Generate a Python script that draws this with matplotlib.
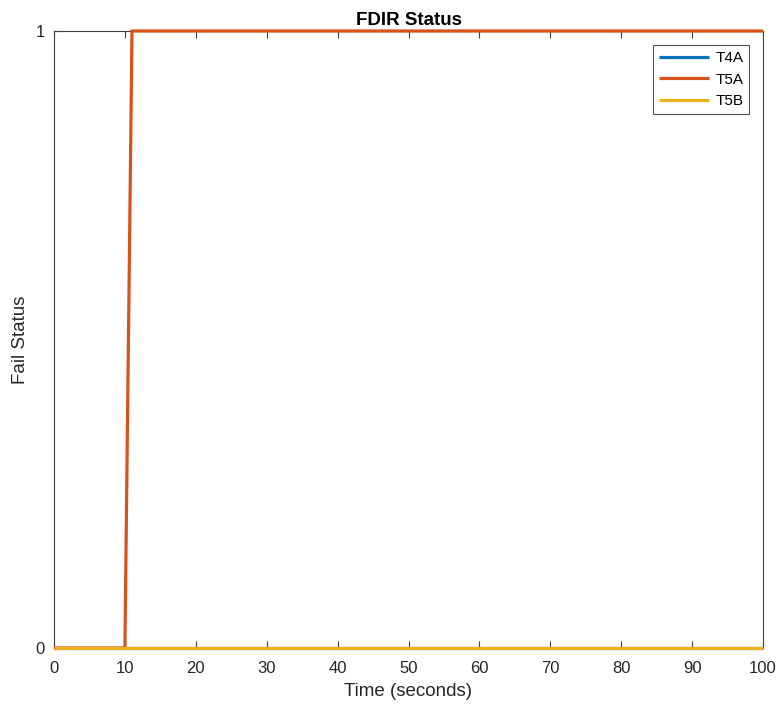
import matplotlib
matplotlib.use("Agg")
import matplotlib.pyplot as plt

time = [0, 10, 11, 100]
T4A = [0, 0, 0, 0]
T5A = [0, 0, 1, 1]
T5B = [0, 0, 0, 0]
series_names = ["T4A", "T5A", "T5B"]
colors = ["#0072BD", "#D95319", "#EDB120"]
xticks = list(range(0, 101, 10))
yticks = [0, 1]

plt.rcParams['font.family'] = ['Liberation Sans', 'DejaVu Sans']

fig = plt.figure(figsize=(7.8, 7.04), dpi=100)
ax = fig.add_axes([54/780, 1 - 648/704, (763-54)/780, (648-31)/704])

for name, vals, c in zip(series_names, [T4A, T5A, T5B], colors):
    ax.plot(time, vals, color=c, lw=2.3, label=name, clip_on=False,
            solid_joinstyle='miter', solid_capstyle='butt', zorder=3)

ax.set_xlim(0, 100)
ax.set_ylim(0, 1)
ax.set_xticks(xticks)
ax.set_yticks(yticks)
ax.tick_params(direction='in', top=True, right=True, length=5, width=0.8,
               colors='#404040', labelsize=12, labelcolor='#262626')
ax.tick_params(axis='x', pad=9.5)
ax.tick_params(axis='y', pad=6.5)
for s in ax.spines.values():
    s.set_color('#404040')
    s.set_linewidth(0.8)
ax.set_xlabel("Time (seconds)", fontsize=13.5, color='#262626', labelpad=5)
ax.set_ylabel("Fail Status", fontsize=13.5, color='#262626', labelpad=5)
ax.set_title("FDIR Status", fontsize=13.5, fontweight='bold', pad=4)

leg = ax.legend(loc='upper right', fontsize=11, frameon=True, fancybox=False,
                edgecolor='#262626', handlelength=3.3, borderaxespad=0.9,
                handletextpad=0.4, labelspacing=0.5, borderpad=0.4)
leg.get_frame().set_linewidth(0.8)
leg.set_zorder(5)

fig.savefig("out.png", dpi=100)
